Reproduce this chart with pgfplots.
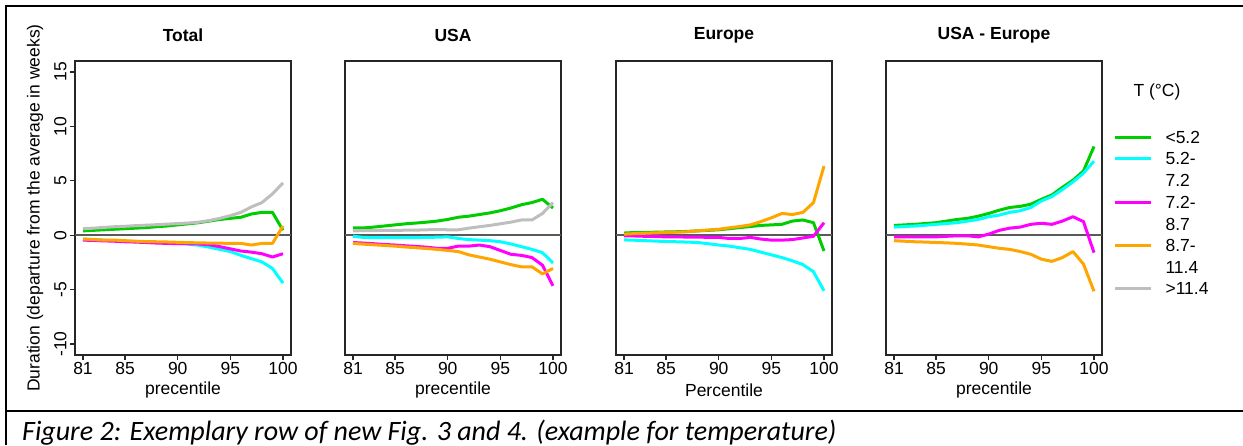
\documentclass[border=0pt]{standalone}
\usepackage{fontspec}
\setmainfont{Liberation Sans}
\newfontfamily\capfont{Carlito}
\usepackage{pgfplots}
\usepackage{pgfplotstable}
\pgfplotsset{compat=1.18}

\definecolor{cgreen}{RGB}{0,205,0}
\definecolor{ccyan}{RGB}{0,255,255}
\definecolor{cmag}{RGB}{255,0,255}
\definecolor{corange}{RGB}{255,165,0}
\definecolor{cgray}{RGB}{190,190,190}

% x g c m o gr
\pgfplotstableread{
x g c m o gr
81 0.40 -0.35 -0.45 -0.35 0.60
82 0.45 -0.40 -0.48 -0.40 0.65
83 0.50 -0.45 -0.52 -0.45 0.72
84 0.55 -0.50 -0.55 -0.45 0.78
85 0.60 -0.55 -0.60 -0.50 0.82
86 0.65 -0.58 -0.63 -0.55 0.88
87 0.70 -0.62 -0.67 -0.58 0.92
88 0.78 -0.68 -0.72 -0.60 0.97
89 0.85 -0.72 -0.75 -0.62 1.02
90 0.95 -0.75 -0.77 -0.65 1.07
91 1.05 -0.82 -0.78 -0.68 1.12
92 1.15 -0.92 -0.80 -0.70 1.20
93 1.30 -1.10 -0.88 -0.72 1.35
94 1.45 -1.30 -1.05 -0.73 1.55
95 1.55 -1.50 -1.25 -0.75 1.80
96 1.65 -1.85 -1.45 -0.75 2.10
97 1.95 -2.15 -1.55 -0.90 2.60
98 2.10 -2.45 -1.70 -0.75 3.00
99 2.10 -3.05 -2.00 -0.75 3.80
100 0.45 -4.40 -1.70 0.85 4.80
}\tabTotal

\pgfplotstableread{
x g c m o gr
81 0.67 -0.10 -0.67 -0.75 0.40
82 0.67 -0.20 -0.72 -0.82 0.42
83 0.75 -0.22 -0.78 -0.88 0.43
84 0.85 -0.22 -0.85 -0.94 0.44
85 0.95 -0.22 -0.90 -1.00 0.45
86 1.05 -0.22 -0.97 -1.08 0.46
87 1.12 -0.22 -1.03 -1.15 0.47
88 1.20 -0.20 -1.10 -1.22 0.50
89 1.30 -0.18 -1.20 -1.30 0.52
90 1.45 -0.15 -1.20 -1.40 0.50
91 1.65 -0.30 -1.00 -1.50 0.50
92 1.75 -0.40 -1.00 -1.80 0.65
93 1.90 -0.45 -0.90 -2.00 0.78
94 2.05 -0.50 -1.05 -2.20 0.90
95 2.25 -0.60 -1.40 -2.45 1.05
96 2.50 -0.80 -1.75 -2.70 1.20
97 2.80 -1.05 -1.85 -2.90 1.40
98 3.00 -1.30 -2.05 -2.90 1.40
99 3.30 -1.60 -2.75 -3.55 2.00
100 2.50 -2.55 -4.65 -3.05 3.00
}\tabUSA

\pgfplotstableread{
x g c m o
81 0.20 -0.43 -0.05 0.10
82 0.25 -0.46 -0.07 0.15
83 0.25 -0.50 -0.10 0.18
84 0.28 -0.54 -0.12 0.22
85 0.30 -0.58 -0.15 0.25
86 0.32 -0.60 -0.15 0.28
87 0.35 -0.63 -0.17 0.32
88 0.40 -0.67 -0.18 0.40
89 0.45 -0.78 -0.19 0.48
90 0.50 -0.90 -0.20 0.55
91 0.60 -1.00 -0.30 0.68
92 0.70 -1.15 -0.30 0.80
93 0.80 -1.30 -0.20 0.95
94 0.90 -1.55 -0.35 1.25
95 0.95 -1.80 -0.45 1.60
96 1.00 -2.05 -0.45 2.00
97 1.30 -2.35 -0.40 1.90
98 1.40 -2.70 -0.25 2.10
99 1.15 -3.35 -0.10 3.00
100 -1.45 -5.10 1.15 6.35
}\tabEurope

\pgfplotstableread{
x g c m o
81 0.90 0.75 -0.15 -0.50
82 0.95 0.80 -0.15 -0.55
83 1.00 0.85 -0.15 -0.60
84 1.08 0.92 -0.15 -0.63
85 1.15 1.00 -0.15 -0.67
86 1.30 1.08 -0.10 -0.70
87 1.45 1.15 -0.05 -0.75
88 1.55 1.30 -0.05 -0.82
89 1.75 1.45 -0.15 -0.90
90 2.00 1.70 0.10 -1.05
91 2.30 1.85 0.45 -1.20
92 2.55 2.10 0.65 -1.30
93 2.65 2.25 0.75 -1.50
94 2.85 2.55 1.00 -1.75
95 3.30 3.15 1.10 -2.20
96 3.70 3.55 1.00 -2.40
97 4.40 4.20 1.30 -2.05
98 5.05 4.90 1.70 -1.50
99 5.90 5.70 1.25 -2.65
100 8.15 6.80 -1.60 -5.15
}\tabDiff

\pgfplotsset{
  panel/.style={
    width=216pt, height=294pt, scale only axis,
    xmin=80.24, xmax=100.76, ymin=-11, ymax=16,
    xtick={81,85,90,95,100}, xticklabels={81,85,90,95,100},
    ytick=\empty,
    tick align=outside, tick pos=left,
    major tick length=5pt,
    axis line style={line width=1.3pt, black!85},
    every tick/.style={line width=1.3pt, black!85},
    xticklabel style={font=\fontsize{17.5}{20}\selectfont, inner sep=2pt},
    yticklabel style={font=\fontsize{17.5}{20}\selectfont, rotate=90, anchor=south},
    every axis plot/.append style={line width=3pt, line join=round},
    anchor=south west,
  },
}

\begin{document}
\begin{tikzpicture}
\useasboundingbox (0,0) rectangle (1243pt,-445pt);
\tikzset{lab/.style={font=\fontsize{17.5}{20}\selectfont}}

\begin{axis}[panel, at={(75pt,-355pt)},
  ytick={-10,-5,0,5,10,15}, yticklabels={-10,-5,0,5,10,15}]
\draw[line width=1.5pt, black!65] (axis cs:80.24,0) -- (axis cs:100.76,0);
\addplot[cgreen] table[x=x,y=g] {\tabTotal};
\addplot[ccyan] table[x=x,y=c] {\tabTotal};
\addplot[cmag] table[x=x,y=m] {\tabTotal};
\addplot[corange] table[x=x,y=o] {\tabTotal};
\addplot[cgray] table[x=x,y=gr] {\tabTotal};
\end{axis}

\begin{axis}[panel, at={(345pt,-355pt)}]
\draw[line width=1.5pt, black!65] (axis cs:80.24,0) -- (axis cs:100.76,0);
\addplot[cgreen] table[x=x,y=g] {\tabUSA};
\addplot[ccyan] table[x=x,y=c] {\tabUSA};
\addplot[cmag] table[x=x,y=m] {\tabUSA};
\addplot[corange] table[x=x,y=o] {\tabUSA};
\addplot[cgray] table[x=x,y=gr] {\tabUSA};
\end{axis}

\begin{axis}[panel, at={(616pt,-355pt)}]
\draw[line width=1.5pt, black!65] (axis cs:80.24,0) -- (axis cs:100.76,0);
\addplot[cgreen] table[x=x,y=g] {\tabEurope};
\addplot[ccyan] table[x=x,y=c] {\tabEurope};
\addplot[cmag] table[x=x,y=m] {\tabEurope};
\addplot[corange] table[x=x,y=o] {\tabEurope};
\end{axis}

\begin{axis}[panel, at={(886pt,-355pt)}]
\draw[line width=1.5pt, black!65] (axis cs:80.24,0) -- (axis cs:100.76,0);
\addplot[cgreen] table[x=x,y=g] {\tabDiff};
\addplot[ccyan] table[x=x,y=c] {\tabDiff};
\addplot[cmag] table[x=x,y=m] {\tabDiff};
\addplot[corange] table[x=x,y=o] {\tabDiff};
\end{axis}

% titles
\node[lab, font=\bfseries\fontsize{17.5}{20}\selectfont] at (183pt,-35pt) {Total};
\node[lab, font=\bfseries\fontsize{17.5}{20}\selectfont] at (453pt,-35pt) {USA};
\node[lab, font=\bfseries\fontsize{17.5}{20}\selectfont] at (724pt,-35pt) {Europe};
\node[lab, font=\bfseries\fontsize{17.5}{20}\selectfont] at (994pt,-35pt) {USA - Europe};
% x labels
\node[lab] at (183pt,-390pt) {precentile};
\node[lab] at (453pt,-390pt) {precentile};
\node[lab] at (724pt,-390pt) {Percentile};
\node[lab] at (994pt,-390pt) {precentile};
% y label
\node[lab, rotate=90] at (35pt,-208pt) {Duration (departure from the average in weeks)};

% legend
\node[lab, anchor=west] at (1130pt,-92pt) {T (°C)};
\draw[cgreen, line width=3pt] (1115pt,-137pt) -- (1151pt,-137pt);
\draw[ccyan, line width=3pt] (1115pt,-158pt) -- (1151pt,-158pt);
\draw[cmag, line width=3pt] (1115pt,-202pt) -- (1151pt,-202pt);
\draw[corange, line width=3pt] (1115pt,-245pt) -- (1151pt,-245pt);
\draw[cgray, line width=3pt] (1115pt,-288pt) -- (1151pt,-288pt);
\node[lab, anchor=west] at (1162pt,-137pt) {<5.2};
\node[lab, anchor=west] at (1162pt,-158pt) {5.2-};
\node[lab, anchor=west] at (1162pt,-180pt) {7.2};
\node[lab, anchor=west] at (1162pt,-202pt) {7.2-};
\node[lab, anchor=west] at (1162pt,-224pt) {8.7};
\node[lab, anchor=west] at (1162pt,-245pt) {8.7-};
\node[lab, anchor=west] at (1162pt,-267pt) {11.4};
\node[lab, anchor=west] at (1162pt,-288pt) {>11.4};

% frame and caption
\draw[line width=2pt] (6pt,-5pt) -- (6pt,-445pt);
\draw[line width=2pt] (5pt,-6pt) -- (1243pt,-6pt);
\draw[line width=2pt] (6pt,-411pt) -- (1243pt,-411pt);
\node[anchor=base west, inner sep=0pt, font=\capfont\itshape\fontsize{28}{33}\selectfont]
  at (22pt,-440pt) {Figure 2: Exemplary row of new Fig. 3 and 4. (example for temperature)};
\end{tikzpicture}
\end{document}
